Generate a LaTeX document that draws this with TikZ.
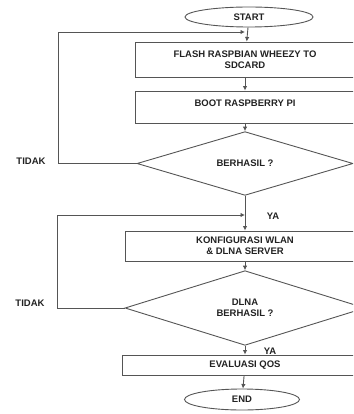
\documentclass[tikz,border=0pt]{standalone}
\usepackage{fontspec}
\setmainfont{Liberation Sans}
\usetikzlibrary{shapes.geometric,arrows.meta}
\definecolor{linec}{HTML}{555555}
\definecolor{textc}{HTML}{222222}
\tikzset{
  base/.style={draw=linec, line width=0.9pt, font=\bfseries\fontsize{9.5}{11}\selectfont, text=textc, inner sep=0pt, align=center},
  stepbox/.style={base, rectangle},
  term/.style={base, ellipse},
  decision/.style={base, diamond},
  lbl/.style={font=\bfseries\fontsize{9.5}{11}\selectfont, text=textc, inner sep=0pt},
  conn/.style={draw=linec, line width=0.9pt, -{Latex[length=4.5pt,width=4.5pt]}},
  plain/.style={draw=linec, line width=0.9pt}
}
\begin{document}
\begin{tikzpicture}[x=1pt,y=-1pt]
\useasboundingbox (0,0) rectangle (353,414);
\clip (0,0) rectangle (353,414);
\node[term, minimum width=128pt, minimum height=20pt] (start) at (249,17) {START};
\node[stepbox, minimum width=220pt, minimum height=35pt] (flash) at (245,59.5) {FLASH RASPBIAN WHEEZY TO\\SDCARD};
\node[stepbox, minimum width=220pt, minimum height=32pt, text depth=8pt] (boot) at (245,107) {BOOT RASPBERRY PI};
\node[decision, minimum width=216pt, minimum height=47pt] (dec1) at (245,163.5) {BERHASIL ?};
\node[stepbox, minimum width=240pt, minimum height=30pt] (konf) at (245,246) {KONFIGURASI WLAN\\\& DLNA SERVER};
\node[decision, minimum width=240pt, minimum height=60pt] (dec2) at (245,308) {DLNA\\BERHASIL ?};
\node[stepbox, minimum width=246pt, minimum height=20pt] (eval) at (245,365) {EVALUASI QOS};
\node[term, minimum width=115pt, minimum height=21pt] (end) at (242,399.5) {END};

\coordinate (j1) at (245,32);
\coordinate (j2) at (245,215);
\coordinate (l1) at (58,163.5);
\coordinate (l1t) at (58,32);
\coordinate (l2) at (57,308);
\coordinate (l2t) at (57,215);

\node[lbl] (tidak1) at (31,161) {TIDAK};
\node[lbl] (tidak2) at (30,303) {TIDAK};
\node[lbl] (ya1) at (273,216) {YA};
\node[lbl] (ya2) at (270,351) {YA};

\draw[conn] (start) -- (flash);
\draw[conn] (flash) -- (boot);
\draw[conn] (boot) -- (dec1);
\draw[conn] (dec1) -- (konf);
\draw[conn] (konf) -- (dec2);
\draw[conn] (dec2) -- (eval);
\draw[conn] (eval) -- (end);
\draw[conn] (dec1.west) -- (l1) -- (l1t) -- (j1);
\draw[conn] (dec2.west) -- (l2) -- (l2t) -- (j2);
\end{tikzpicture}
\end{document}
